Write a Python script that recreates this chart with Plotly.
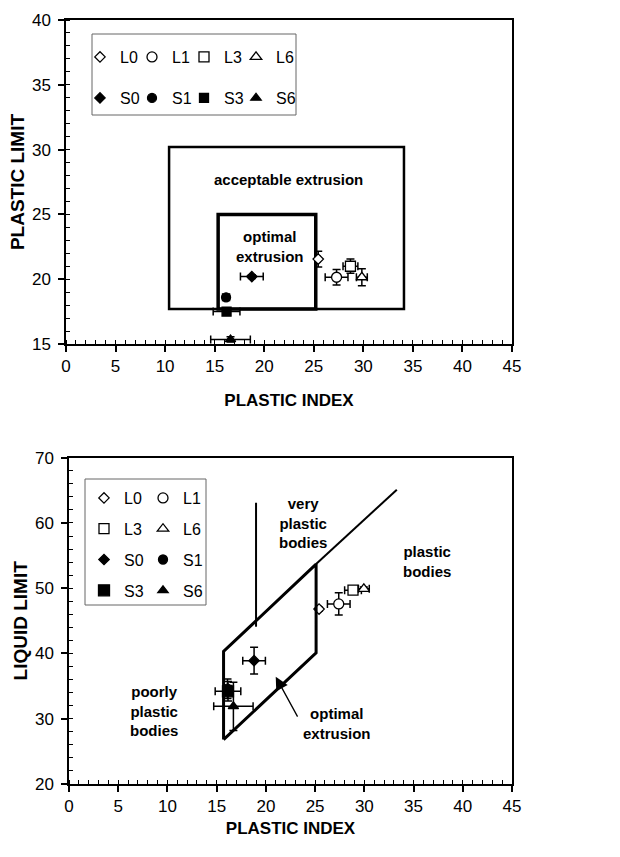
import plotly.graph_objects as go

# ---------------- data ----------------
series = ["L0", "L1", "L3", "L6", "S0", "S1", "S3", "S6"]

# Top chart: plastic index (x) vs plastic limit (y)
pi_top = [25.45, 27.3, 28.7, 29.85, 18.75, 16.15, 16.2, 16.6]
pl_top = [21.55, 20.15, 21.0, 20.15, 20.2, 18.6, 17.5, 15.35]
pi_top_err = [0.15, 1.15, 0.75, 0.55, 1.15, 0.35, 1.35, 2.0]
pl_top_err = [0.6, 0.6, 0.55, 0.65, 0.15, 0.2, 0.2, 0.2]

# Bottom chart: plastic index (x) vs liquid limit (y)
pi_bot = [25.4, 27.4, 28.85, 29.95, 18.8, 16.1, 16.15, 16.7]
ll_bot = [46.8, 47.6, 49.7, 49.9, 38.9, 34.6, 34.2, 31.9]
pi_bot_err = [0.15, 1.15, 0.85, 0.55, 1.15, 0.4, 1.3, 2.0]
ll_bot_err = [0.3, 1.7, 0.4, 0.3, 2.05, 1.5, 1.5, 3.7]

# zone boundaries (data units)
accept_x = [10.4, 34.1]
accept_y = [17.7, 30.2]
optimal_x = [15.35, 25.2]
optimal_y = [17.7, 25.0]

para_x = [15.7, 25.1, 25.1, 15.7, 15.7]
para_y = [26.8, 40.1, 53.7, 40.3, 26.8]
ext_x = [25.1, 33.3]
ext_y = [53.7, 65.1]
vline_x = [19.0, 19.0]
vline_y = [44.1, 63.1]

x_ticks = [0, 5, 10, 15, 20, 25, 30, 35, 40, 45]
top_y_ticks = [15, 20, 25, 30, 35, 40]
bot_y_ticks = [20, 30, 40, 50, 60, 70]

# ---------------- styling ----------------
FONT = "Liberation Sans, Arial, sans-serif"
W, H = 620, 857
symbols = {"L0": "diamond", "L1": "circle", "L3": "square", "L6": "triangle-up",
           "S0": "diamond", "S1": "circle", "S3": "square", "S6": "triangle-up"}
sizes_top = {"L0": 8, "L1": 10, "L3": 10, "L6": 10, "S0": 8, "S1": 9, "S3": 9, "S6": 9}
sizes_bot = {"L0": 8, "L1": 10, "L3": 10, "L6": 10, "S0": 8, "S1": 9, "S3": 11, "S6": 9}


def fill(name):
    return "white" if name.startswith("L") else "black"


fig = go.Figure()

# top traces
for i, s in enumerate(series):
    fig.add_trace(go.Scatter(
        x=[pi_top[i]], y=[pl_top[i]], mode="markers", name=s,
        xaxis="x", yaxis="y", cliponaxis=False,
        legend="legend" if s.startswith("L") else "legend2",
        legendwidth=25 if s.endswith("6") else None,
        marker=dict(symbol=symbols[s], size=sizes_top[s], color=fill(s),
                    line=dict(color="black", width=1.3)),
        error_x=dict(type="data", array=[pi_top_err[i]], color="black", thickness=1.5, width=4),
        error_y=dict(type="data", array=[pl_top_err[i]], color="black", thickness=1.5, width=4),
    ))

# bottom traces
col1 = ["L0", "L3", "S0", "S3"]
for i, s in enumerate(series):
    fig.add_trace(go.Scatter(
        x=[pi_bot[i]], y=[ll_bot[i]], mode="markers", name=s,
        xaxis="x2", yaxis="y2", cliponaxis=False,
        legend="legend3" if s in col1 else "legend4",
        legendgroup="b" + s,
        marker=dict(symbol=symbols[s], size=sizes_bot[s], color=fill(s),
                    line=dict(color="black", width=1.3)),
        error_x=dict(type="data", array=[pi_bot_err[i]], color="black", thickness=1.5, width=4),
        error_y=dict(type="data", array=[ll_bot_err[i]], color="black", thickness=1.5, width=4),
    ))

# zone outlines on bottom chart
fig.add_trace(go.Scatter(x=para_x, y=para_y, mode="lines", xaxis="x2", yaxis="y2",
                         line=dict(color="black", width=3), showlegend=False, hoverinfo="skip"))
fig.add_trace(go.Scatter(x=ext_x, y=ext_y, mode="lines", xaxis="x2", yaxis="y2",
                         line=dict(color="black", width=2), showlegend=False, hoverinfo="skip"))
fig.add_trace(go.Scatter(x=vline_x, y=vline_y, mode="lines", xaxis="x2", yaxis="y2",
                         line=dict(color="black", width=2), showlegend=False, hoverinfo="skip"))

shapes = [
    dict(type="rect", xref="x", yref="y", x0=accept_x[0], x1=accept_x[1], y0=accept_y[0], y1=accept_y[1],
         line=dict(color="black", width=2.5), layer="below"),
    dict(type="rect", xref="x", yref="y", x0=optimal_x[0], x1=optimal_x[1], y0=optimal_y[0], y1=optimal_y[1],
         line=dict(color="black", width=3.5), layer="below"),
    # legend frames
    dict(type="rect", xref="paper", yref="paper", x0=92 / W, x1=296 / W, y0=1 - 115 / H, y1=1 - 34 / H,
         line=dict(color="#666666", width=1)),
    dict(type="rect", xref="paper", yref="paper", x0=85 / W, x1=206 / W, y0=1 - 605 / H, y1=1 - 479 / H,
         line=dict(color="#666666", width=1)),
]

ann_font = dict(family=FONT, size=15, color="black")
annotations = [
    dict(text="<b>acceptable extrusion</b>", x=22.43, y=27.66, xref="x", yref="y", showarrow=False, font=ann_font),
    dict(text="<b>optimal<br>extrusion</b>", x=20.6, y=22.54, xref="x", yref="y", showarrow=False, font=ann_font),
    dict(text="<b>very<br>plastic<br>bodies</b>", x=23.8, y=59.95, xref="x2", yref="y2", showarrow=False, font=ann_font),
    dict(text="<b>plastic<br>bodies</b>", x=36.4, y=54.1, xref="x2", yref="y2", showarrow=False, font=ann_font),
    dict(text="<b>poorly<br>plastic<br>bodies</b>", x=8.63, y=31.24, xref="x2", yref="y2", showarrow=False, font=ann_font),
    dict(text="<b>optimal<br>extrusion</b>", x=27.18, y=29.2, xref="x2", yref="y2", showarrow=False, font=ann_font),
    dict(text="", x=21.0, y=36.45, xref="x2", yref="y2", ax=23.3, ay=30.1, axref="x2", ayref="y2",
         showarrow=True, arrowhead=2, arrowsize=2, arrowwidth=1.3, arrowcolor="black"),
]


def xaxis_cfg(domain, anchor, standoff):
    return dict(domain=domain, anchor=anchor, range=[0, 45], tickvals=x_ticks,
                ticks="outside", ticklen=6, tickwidth=1.5, tickcolor="black",
                showline=True, linecolor="black", linewidth=1.5, mirror=True,
                showgrid=False, zeroline=False, ticklabelstandoff=0,
                minor=dict(dtick=1, ticks="inside", ticklen=4, tickwidth=1, tickcolor="black"),
                tickfont=dict(family=FONT, size=17, color="black"),
                title=dict(text="<b>PLASTIC INDEX</b>", font=dict(family=FONT, size=17, color="black"),
                           standoff=standoff))


def yaxis_cfg(domain, anchor, rng, ticks, minor_dt, title):
    return dict(domain=domain, anchor=anchor, range=rng, tickvals=ticks,
                ticks="outside", ticklen=6, tickwidth=1.5, tickcolor="black",
                showline=True, linecolor="black", linewidth=1.5, mirror=True,
                showgrid=False, zeroline=False, ticklabelstandoff=4,
                minor=dict(dtick=minor_dt, ticks="inside", ticklen=4, tickwidth=1, tickcolor="black"),
                tickfont=dict(family=FONT, size=17, color="black"),
                title=dict(text="<b>" + title + "</b>", font=dict(family=FONT, size=19, color="black"),
                           standoff=2))


leg_font = dict(family=FONT, size=16, color="black")


def hleg(y_px, x_px):
    return dict(orientation="h", x=x_px / W, y=1 - y_px / H, xref="paper", yref="paper",
                xanchor="left", yanchor="middle", entrywidth=7, traceorder="normal",
                bgcolor="rgba(0,0,0,0)", borderwidth=0, font=leg_font, itemclick=False)


def vleg(x_px, top_px):
    return dict(orientation="v", x=x_px / W, y=1 - top_px / H, xref="paper", yref="paper",
                xanchor="left", yanchor="top", traceorder="grouped", tracegroupgap=7,
                bgcolor="rgba(0,0,0,0)", borderwidth=0, font=leg_font, itemclick=False)


fig.update_layout(
    width=W, height=H, margin=dict(l=0, r=0, t=0, b=0, autoexpand=False),
    paper_bgcolor="white", plot_bgcolor="white",
    font=dict(family=FONT, color="black"),
    xaxis=xaxis_cfg([66 / W, 512 / W], "y", 19),
    yaxis=yaxis_cfg([1 - 344 / H, 1 - 20 / H], "x", [15, 40], top_y_ticks, 1, "PLASTIC LIMIT"),
    xaxis2=xaxis_cfg([69 / W, 512 / W], "y2", 7),
    yaxis2=yaxis_cfg([1 - 784 / H, 1 - 457.7 / H], "x2", [20, 70], bot_y_ticks, 2, "LIQUID LIMIT"),
    legend=hleg(57, 80),
    legend2=hleg(98, 80),
    legend3=vleg(84, 481),
    legend4=vleg(143, 481),
    shapes=shapes,
    annotations=annotations,
    showlegend=True,
)

fig.write_html("out.html", config={"displayModeBar": False},
               post_script="document.body.style.margin='0px';")
